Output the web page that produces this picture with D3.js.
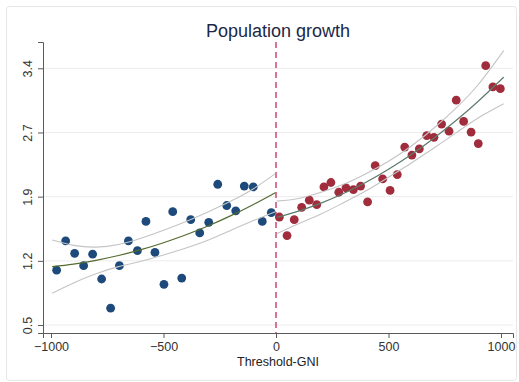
<!DOCTYPE html>
<html><head><meta charset="utf-8">
<script src="https://cdn.jsdelivr.net/npm/d3@7"></script>
<style>body{margin:0;background:#fff;}svg{display:block;font-family:"Liberation Sans",Arial,sans-serif;}</style>
</head><body>
<svg id="c" width="519" height="382"></svg>
<script>
// Data
const leftX = [-975,-935,-895,-855,-815,-775,-735,-696,-656,-616,-578,-538,-498,-459,-419,-379,-339,-299,-259,-219,-179,-141,-101,-61,-21];
const leftY = [1.12,1.45,1.31,1.17,1.30,1.02,0.69,1.17,1.45,1.34,1.67,1.32,0.96,1.78,1.03,1.69,1.54,1.66,2.09,1.85,1.79,2.07,2.06,1.67,1.77];
const rightX = [15,49,81,114,148,181,213,244,279,311,344,376,407,441,474,507,539,572,604,637,670,702,736,769,801,834,867,899,932,964,997];
const rightY = [1.72,1.51,1.69,1.83,1.91,1.86,2.06,2.11,2.00,2.05,2.03,2.07,1.89,2.30,2.15,2.02,2.20,2.51,2.42,2.49,2.64,2.62,2.77,2.69,3.04,2.80,2.68,2.55,3.43,3.19,3.17];

// Fitted curves and confidence bands
const leftFitX = [-995,-900,-800,-700,-600,-500,-400,-300,-200,-100,-3];
const leftFit  = [1.16,1.188,1.231,1.285,1.351,1.430,1.520,1.622,1.736,1.862,1.995];
const leftHi   = [1.46,1.40,1.38,1.41,1.48,1.57,1.67,1.78,1.90,2.04,2.21];
const leftLo   = [0.86,0.976,1.08,1.16,1.22,1.29,1.37,1.46,1.57,1.68,1.78];
const rightFitX = [3,100,200,300,400,500,600,700,800,900,1012];
const rightFit  = [1.715,1.787,1.877,1.986,2.113,2.260,2.424,2.608,2.810,3.031,3.30];
const rightHi   = [1.90,1.93,2.00,2.09,2.21,2.35,2.52,2.72,2.95,3.22,3.60];
const rightLo   = [1.53,1.644,1.754,1.882,2.016,2.17,2.328,2.496,2.67,2.842,3.00];

const xTicks = [-1000,-500,0,500,1000];
const yTickValues = [0.5,1.225,1.95,2.675,3.4];
const yTickLabels = ["0.5","1.2","1.9","2.7","3.4"];
const title = "Population growth";
const xTitle = "Threshold-GNI";

const svg = d3.select("#c");
const x = d3.scaleLinear().domain([-1035.6,1053.3]).range([43,513]);
const y = d3.scaleLinear().domain([0.41,3.697]).range([333,42]);

// outer frame
svg.append("rect").attr("x",6.5).attr("y",6.5).attr("width",510).attr("height",374)
  .attr("rx",3).attr("fill","none").attr("stroke","#e6e6e6");

// gridlines
svg.append("g").selectAll("line").data(yTickValues).join("line")
  .attr("x1",44).attr("x2",513).attr("y1",d=>y(d)).attr("y2",d=>y(d))
  .attr("stroke","#ececec").attr("stroke-width",1);

// axes
const xa = svg.append("g").attr("transform","translate(0,333)")
  .call(d3.axisBottom(x).tickValues(xTicks).tickFormat(d3.format("d")).tickSizeOuter(0).tickSize(5).tickPadding(4));
const ya = svg.append("g").attr("transform","translate(43,0)")
  .call(d3.axisLeft(y).tickValues(yTickValues).tickFormat((d,i)=>yTickLabels[i]).tickSizeOuter(0).tickSize(5).tickPadding(4));
[xa,ya].forEach(a=>{
  a.select(".domain").attr("stroke","#5a5a5a");
  a.selectAll(".tick line").attr("stroke","#5a5a5a");
  a.selectAll("text").attr("fill","#333").style("font-size","12.5px").style("font-family","'Liberation Sans',Arial,sans-serif");
});
ya.selectAll(".tick text").attr("transform","rotate(-90)").attr("text-anchor","middle")
  .attr("x",0).attr("y",-11).attr("dy","0");

// threshold line
svg.append("line").attr("x1",x(0)).attr("x2",x(0)).attr("y1",42).attr("y2",333)
  .attr("stroke","#c93a6b").attr("stroke-width",1.4).attr("stroke-dasharray","6,4");

const line = (xs,ys)=>d3.line().x((d,i)=>x(xs[i])).y(d=>y(d)).curve(d3.curveNatural)(ys);
const drawBand=(xs,fit,hi,lo,fitColor)=>{
  svg.append("path").attr("d",line(xs,hi)).attr("fill","none").attr("stroke","#c4c4c4").attr("stroke-width",1.1);
  svg.append("path").attr("d",line(xs,lo)).attr("fill","none").attr("stroke","#c4c4c4").attr("stroke-width",1.1);
  svg.append("path").attr("d",line(xs,fit)).attr("fill","none").attr("stroke",fitColor).attr("stroke-width",1.2);
};

// points
svg.append("g").selectAll("circle").data(leftY).join("circle")
  .attr("cx",(d,i)=>x(leftX[i])).attr("cy",d=>y(d)).attr("r",4.4).attr("fill","#1d4a7a");
svg.append("g").selectAll("circle").data(rightY).join("circle")
  .attr("cx",(d,i)=>x(rightX[i])).attr("cy",d=>y(d)).attr("r",4.4).attr("fill","#a02c3c");

drawBand(leftFitX,leftFit,leftHi,leftLo,"#556b2f");
drawBand(rightFitX,rightFit,rightHi,rightLo,"#5e7b6c");

// titles
svg.append("text").attr("x",278).attr("y",37).attr("text-anchor","middle")
  .style("font-size","18px").attr("fill","#1c2846").text(title);
svg.append("text").attr("x",278).attr("y",366).attr("text-anchor","middle")
  .style("font-size","12.5px").attr("fill","#222").text(xTitle);
</script>
</body></html>
